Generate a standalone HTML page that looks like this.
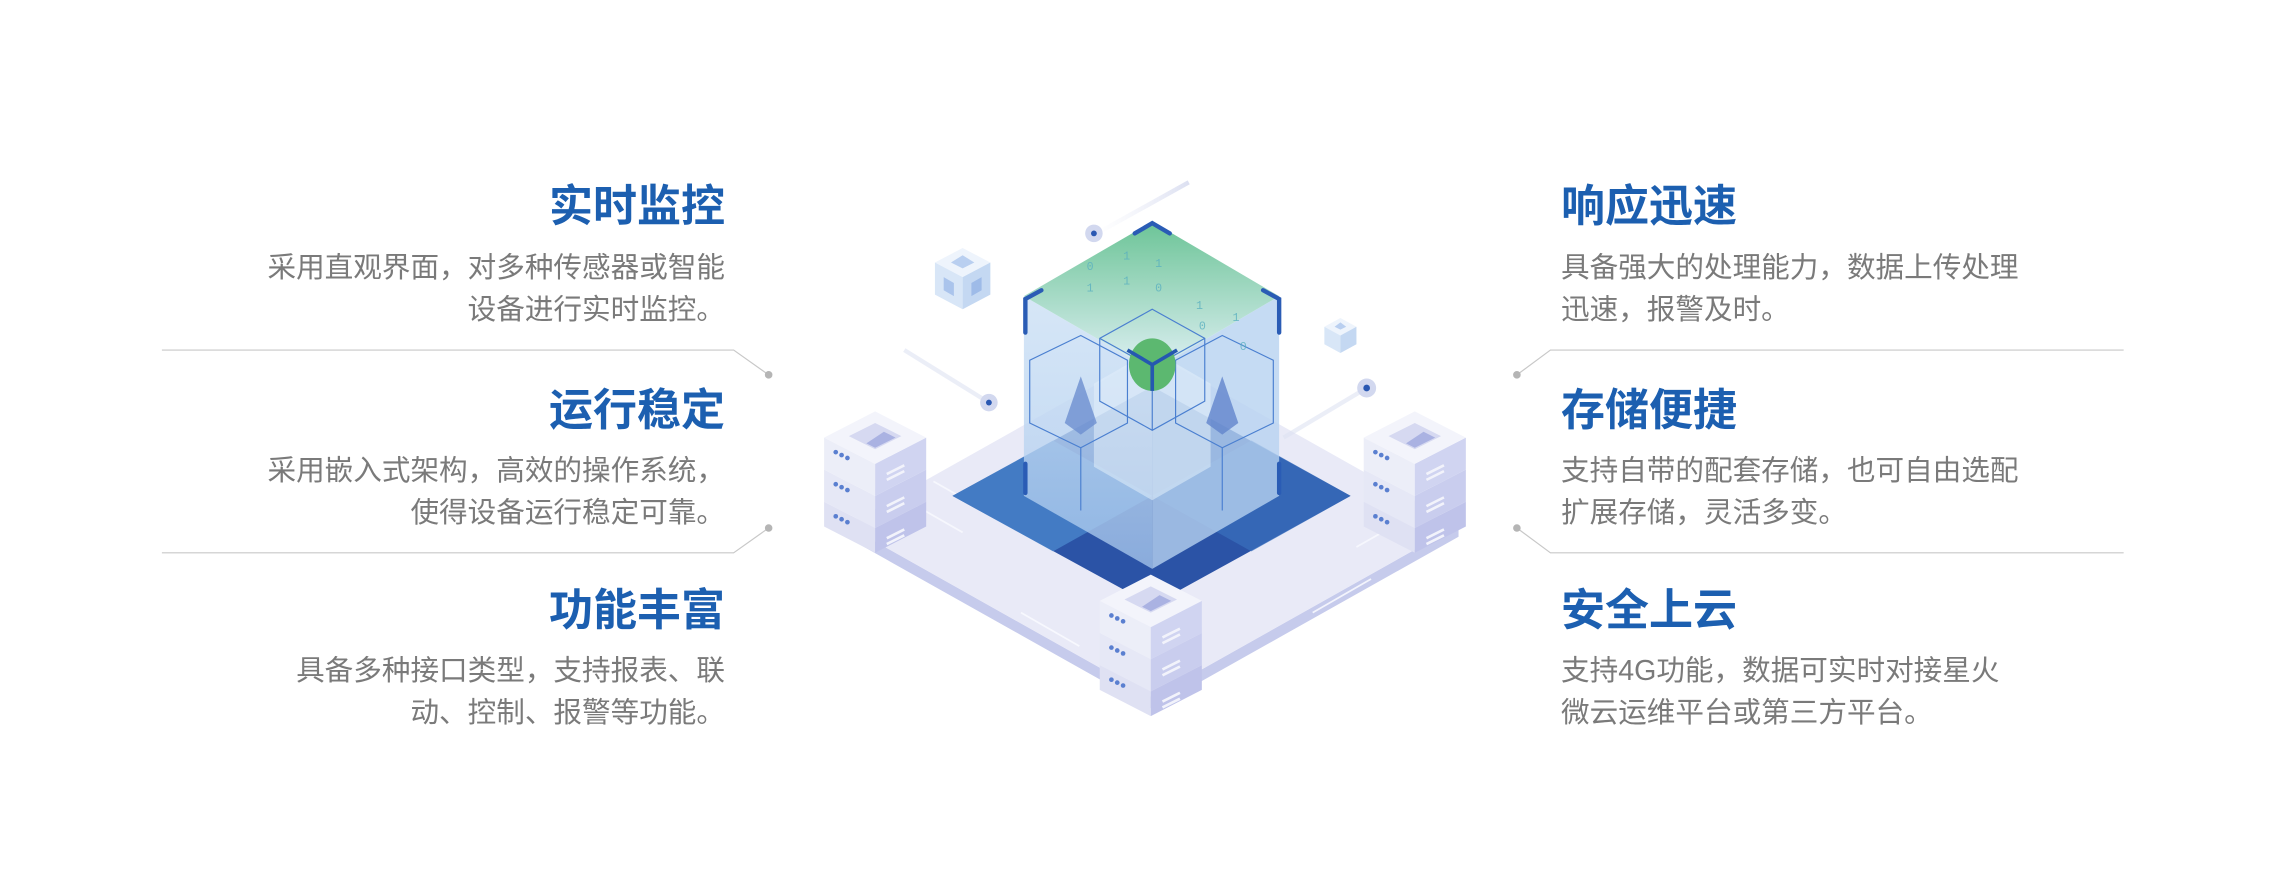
<!DOCTYPE html>
<html><head><meta charset="utf-8">
<style>
html,body{margin:0;padding:0;background:#fff;}
body{width:2287px;height:889px;position:relative;overflow:hidden;font-family:"Liberation Sans","Noto Sans CJK SC",sans-serif;}
.t{position:absolute;font-size:44px;font-weight:bold;color:#1c5fb0;line-height:50px;white-space:nowrap;}
.d{position:absolute;font-size:28.6px;color:#7a7a7a;line-height:42px;white-space:nowrap;}
.r{text-align:right;}
svg{position:absolute;left:0;top:0;}
</style></head><body>
<svg width="2287" height="889" viewBox="0 0 1568 609.5">
<defs>
<linearGradient id="gt" x1="0" y1="0" x2="0" y2="1"><stop offset="0" stop-color="#6cc497"/><stop offset="1" stop-color="#dff0f4"/></linearGradient>
<linearGradient id="gl" x1="0" y1="0" x2="0" y2="1"><stop offset="0" stop-color="#cfe2f5" stop-opacity=".85"/><stop offset="1" stop-color="#a9c9ee" stop-opacity=".75"/></linearGradient>
<linearGradient id="ln" x1="0" y1="0" x2="1" y2="0"><stop offset="0" stop-color="#dfe3f3" stop-opacity="0"/><stop offset="1" stop-color="#c5cbe8"/></linearGradient>
<g id="srv">
  <polygon points="-35,62 0,80 0,97 -35,79" fill="#dfe1f3"/>
  <polygon points="35,62 0,80 0,97 35,79" fill="#bfc3ea"/>
  <polygon points="-35,40 0,58 0,80 -35,62" fill="#e6e8f6"/>
  <polygon points="35,40 0,58 0,80 35,62" fill="#c9cdee"/>
  <polygon points="-35,18 0,36 0,58 -35,40" fill="#eceef8"/>
  <polygon points="35,18 0,36 0,58 35,40" fill="#d0d4f1"/>
  <polygon points="0,0 35,18 0,36 -35,18" fill="#f3f4fb"/>
  <polygon points="0,8 18,17 0,26 -18,17" fill="#d6d9f1"/>
  <polygon points="6,14 14,18 0,25 -6,22" fill="#aab2e2"/>
  <g fill="#5a7fd0"><circle cx="-27" cy="28" r="1.6"/><circle cx="-23" cy="30" r="1.6"/><circle cx="-19" cy="32" r="1.6"/>
  <circle cx="-27" cy="50" r="1.6"/><circle cx="-23" cy="52" r="1.6"/><circle cx="-19" cy="54" r="1.6"/>
  <circle cx="-27" cy="72" r="1.6"/><circle cx="-23" cy="74" r="1.6"/><circle cx="-19" cy="76" r="1.6"/></g>
  <g stroke="#f2f3fb" stroke-width="1.8"><line x1="8" y1="43" x2="20" y2="37"/><line x1="8" y1="47" x2="20" y2="41"/>
  <line x1="8" y1="65" x2="20" y2="59"/><line x1="8" y1="69" x2="20" y2="63"/><line x1="8" y1="87" x2="20" y2="81"/><line x1="8" y1="91" x2="20" y2="85"/></g>
</g>
</defs>
<g stroke="#c8c8c8" stroke-width="0.8" fill="none">
<polyline points="111,240 503,240 527,257"/>
<polyline points="111,379 503,379 527,362"/>
<polyline points="1456,240 1063,240 1040,257"/>
<polyline points="1456,379 1063,379 1040,362"/>
</g>
<g fill="#b5b5b5"><circle cx="527" cy="257" r="2.6"/><circle cx="527" cy="362" r="2.6"/><circle cx="1040" cy="257" r="2.6"/><circle cx="1040" cy="362" r="2.6"/></g>
<polygon points="580,360 790,478 1000,360 1000,368 790,486 580,368" fill="#c6cbec"/>
<polygon points="790,242 1000,360 790,478 580,360" fill="#e9eaf7"/>
<g stroke="#f8f9fe" stroke-width="1.2" fill="none" opacity=".9">
<line x1="625" y1="345" x2="660" y2="365"/><line x1="640" y1="330" x2="675" y2="350"/><line x1="700" y1="420" x2="740" y2="443"/><line x1="930" y1="375" x2="960" y2="358"/><line x1="900" y1="420" x2="940" y2="397"/>
</g>
<polygon points="790,265 926,340 790,415 653,340" fill="#2b53a6"/>
<polygon points="653,340 722,302 790,340 722,378" fill="#4a86cc" opacity=".8"/>
<polygon points="858,302 926,340 858,378 790,340" fill="#3a70bd" opacity=".7"/>
<polygon points="702,203 790,254 790,390 702,340" fill="url(#gl)"/>
<polygon points="877,203 790,254 790,390 877,340" fill="#b6d2f0" opacity=".8"/>
<polygon points="790,152 877,203 790,254 702,203" fill="url(#gt)"/>
<polygon points="790,240 830,263 830,320 790,343 750,320 750,263" fill="#e2eefa" opacity=".55"/>
<g stroke="#4a7fd0" stroke-width="0.8" fill="none">
<polygon points="790,212 826,232 826,275 790,295 754,275 754,232"/>
<polyline points="754,232 790,252 826,232"/><line x1="790" y1="252" x2="790" y2="295"/>
<polygon points="741,230 773,247 773,290 741,307 706,290 706,247"/>
<polygon points="838,230 873,247 873,290 838,307 806,290 806,247"/>
<line x1="741" y1="307" x2="741" y2="350"/><line x1="838" y1="307" x2="838" y2="350"/>
</g>
<polygon points="741,258 752,290 741,298 730,290" fill="#6d8fd0" opacity=".8"/>
<polygon points="838,258 849,290 838,298 827,290" fill="#6184cc" opacity=".8"/>
<ellipse cx="790" cy="250" rx="16" ry="18" fill="#5cb870"/>
<polyline points="773,240 790,250 807,240" stroke="#2558b0" stroke-width="2.5" fill="none"/><line x1="790" y1="250" x2="790" y2="268" stroke="#2558b0" stroke-width="2.5"/>
<g stroke="#2a5cb5" stroke-width="3" fill="none" stroke-linecap="round">
<polyline points="778,160 790,153 802,160"/><polyline points="703,228 703,205 714,199"/>
<polyline points="877,228 877,205 866,199"/><line x1="703" y1="318" x2="703" y2="338"/><line x1="877" y1="318" x2="877" y2="338"/>
</g>
<g font-family="Liberation Mono,monospace" font-size="8" fill="#5ab0c0" opacity=".8">
<text x="745" y="185">0</text><text x="770" y="178">1</text><text x="792" y="183">1</text><text x="745" y="200">1</text><text x="770" y="195">1</text><text x="792" y="200">0</text><text x="820" y="212">1</text><text x="845" y="220">1</text><text x="822" y="226">0</text><text x="850" y="240">0</text>
</g>
<use href="#srv" x="600" y="282"/>
<use href="#srv" x="970" y="282"/>
<use href="#srv" x="789" y="394"/>
<g transform="translate(660,170)">
<polygon points="0,0 19,10 0,20 -19,10" fill="#eef4fc"/><polygon points="-19,10 0,20 0,42 -19,32" fill="#d8e6f7"/><polygon points="19,10 0,20 0,42 19,32" fill="#c4d8f2"/>
<polygon points="0,5 8,10 0,14 -8,10" fill="#b9cff0"/><polygon points="-13,20 -6,24 -6,33 -13,29" fill="#aac4ec"/><polygon points="13,20 6,24 6,33 13,29" fill="#9ebbe8"/>
</g>
<g transform="translate(919,218)">
<polygon points="0,0 11,6 0,12 -11,6" fill="#eef4fc"/><polygon points="-11,6 0,12 0,24 -11,18" fill="#d8e6f7"/><polygon points="11,6 0,12 0,24 11,18" fill="#c4d8f2"/>
<polygon points="0,3 4,6 0,8 -4,6" fill="#b9cff0"/>
</g>
<line x1="752" y1="160" x2="815" y2="125" stroke="url(#ln)" stroke-width="3" opacity=".6"/>
<line x1="620" y1="240" x2="678" y2="276" stroke="#dfe3f3" stroke-width="3" opacity=".6"/>
<line x1="880" y1="300" x2="937" y2="266" stroke="#dfe3f3" stroke-width="3" opacity=".6"/>
<g><circle cx="750" cy="160" r="6" fill="#d2d8ef"/><circle cx="750" cy="160" r="2" fill="#2a58b2"/>
<circle cx="678" cy="276" r="6" fill="#d2d8ef"/><circle cx="678" cy="276" r="2" fill="#2a58b2"/>
<circle cx="937" cy="266" r="6.5" fill="#d2d8ef"/><circle cx="937" cy="266" r="2.3" fill="#2a58b2"/></g>
</svg>

<div class="t r" style="right:1562px;top:182px;">实时监控</div>
<div class="d r" style="right:1562px;top:247px;">采用直观界面，对多种传感器或智能<br>设备进行实时监控。</div>
<div class="t r" style="right:1562px;top:386px;">运行稳定</div>
<div class="d r" style="right:1562px;top:450px;">采用嵌入式架构，高效的操作系统，<br>使得设备运行稳定可靠。</div>
<div class="t r" style="right:1562px;top:586px;">功能丰富</div>
<div class="d r" style="right:1562px;top:650px;">具备多种接口类型，支持报表、联<br>动、控制、报警等功能。</div>

<div class="t" style="left:1561px;top:182px;">响应迅速</div>
<div class="d" style="left:1561px;top:247px;">具备强大的处理能力，数据上传处理<br>迅速，报警及时。</div>
<div class="t" style="left:1561px;top:386px;">存储便捷</div>
<div class="d" style="left:1561px;top:450px;">支持自带的配套存储，也可自由选配<br>扩展存储，灵活多变。</div>
<div class="t" style="left:1561px;top:586px;">安全上云</div>
<div class="d" style="left:1561px;top:650px;">支持4G功能，数据可实时对接星火<br>微云运维平台或第三方平台。</div>
</body></html>
